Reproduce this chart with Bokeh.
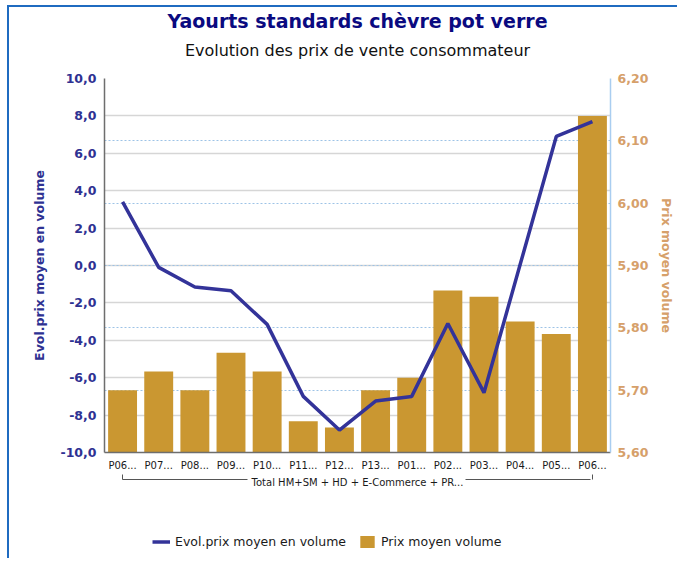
from bokeh.plotting import figure
from bokeh.layouts import column
from bokeh.models import (Range1d, LinearAxis, FixedTicker, Grid, Legend, LegendItem,
                          Title, ColumnDataSource)
from bokeh.embed import file_html
from bokeh.resources import INLINE

# ---------------- data ----------------
categories = ["P06...", "P07...", "P08...", "P09...", "P10...", "P11...", "P12...",
              "P13...", "P01...", "P02...", "P03...", "P04...", "P05...", "P06..."]
evol_prix = [3.4, -0.1, -1.15, -1.35, -3.15, -7.0, -8.8,
             -7.25, -7.0, -3.1, -6.8, 0.05, 6.9, 7.7]
prix_moyen = [5.70, 5.73, 5.70, 5.76, 5.73, 5.65, 5.64,
              5.70, 5.72, 5.86, 5.85, 5.81, 5.79, 6.14]
group_label = "Total HM+SM + HD + E-Commerce + PR..."
left_ticks = [-10, -8, -6, -4, -2, 0, 2, 4, 6, 8, 10]
right_ticks = [5.6, 5.7, 5.8, 5.9, 6.0, 6.1, 6.2]
left_tick_labels = ["-10,0", "-8,0", "-6,0", "-4,0", "-2,0", "0,0", "2,0", "4,0", "6,0", "8,0", "10,0"]
right_tick_labels = ["5,60", "5,70", "5,80", "5,90", "6,00", "6,10", "6,20"]

title_text = "Yaourts standards chèvre pot verre"
subtitle_text = "Evolution des prix de vente consommateur"
left_title = "Evol.prix moyen en volume"
right_title = "Prix moyen volume"
legend_labels = ["Evol.prix moyen en volume", "Prix moyen volume"]

FONT = "DejaVu Sans"
BLUE = "#2E3192"
TAN = "#D6A06A"
BAR = "#CA9731"
LINE = "#333399"

idx = list(range(len(categories)))
src = ColumnDataSource(dict(x=idx, evol=evol_prix, prix=prix_moyen))

p = figure(width=668, height=495,
           x_range=Range1d(-0.5, len(categories) - 0.5),
           y_range=Range1d(left_ticks[0], left_ticks[-1]),
           x_axis_type=None, y_axis_type=None,
           output_backend="svg", toolbar_location=None,
           min_border_left=95, min_border_right=60, min_border_top=71, min_border_bottom=50,
           outline_line_color=None)
p.extra_y_ranges = {"prix": Range1d(right_ticks[0], right_ticks[-1])}

# titles (first added = closest to the plot)
p.add_layout(Title(text=subtitle_text, align="center", text_font=FONT, text_font_size="16px",
                   text_font_style="normal", text_color="#111111", standoff=38), "above")
p.add_layout(Title(text=title_text, align="center", text_font=FONT, text_font_size="19px",
                   text_font_style="bold", text_color="#0A0A80", standoff=-24), "above")

# axes
yl = LinearAxis(ticker=FixedTicker(ticks=left_ticks),
                major_label_overrides=dict(zip(left_ticks, left_tick_labels)),
                axis_label=left_title, axis_label_standoff=10,
                axis_label_text_font=FONT, axis_label_text_font_size="12.5px",
                axis_label_text_font_style="bold", axis_label_text_color=BLUE,
                major_label_text_font=FONT, major_label_text_font_size="12.5px",
                major_label_text_font_style="bold", major_label_text_color=BLUE,
                major_label_standoff=8, major_tick_in=0, major_tick_out=0,
                major_tick_line_color=None, minor_tick_line_color=None,
                axis_line_color="#6E6E6E", axis_line_width=1.5)
p.add_layout(yl, "left")

yr = LinearAxis(y_range_name="prix", ticker=FixedTicker(ticks=right_ticks),
                major_label_overrides=dict(zip(right_ticks, right_tick_labels)),
                axis_label=right_title, axis_label_standoff=8,
                axis_label_text_font=FONT, axis_label_text_font_size="12.5px",
                axis_label_text_font_style="bold", axis_label_text_color=TAN,
                major_label_text_font=FONT, major_label_text_font_size="12.5px",
                major_label_text_font_style="bold", major_label_text_color=TAN,
                major_label_standoff=7, major_tick_in=0, major_tick_out=0,
                major_tick_line_color=None, minor_tick_line_color=None,
                axis_line_color="#A9CDF0", axis_line_width=1.5)
p.add_layout(yr, "right")

# category labels
xa = LinearAxis(ticker=FixedTicker(ticks=idx),
                major_label_overrides=dict(zip(idx, categories)),
                major_label_text_font=FONT, major_label_text_font_size="10px",
                major_label_text_color="#1A1A1A", major_label_standoff=7,
                major_tick_in=0, major_tick_out=0,
                major_tick_line_color=None, minor_tick_line_color=None,
                axis_line_color="#6E6E6E", axis_line_width=1.5,
                axis_label=" ", axis_label_text_font_size="3px", axis_label_standoff=0)
p.add_layout(xa, "below")

# group bracket with its label
xb = LinearAxis(ticker=FixedTicker(ticks=[idx[0], idx[-1]]), bounds=(idx[0], idx[-1]),
                major_label_overrides={idx[0]: " ", idx[-1]: " "},
                major_label_text_font_size="4px", major_label_standoff=0,
                major_tick_in=5, major_tick_out=0,
                major_tick_line_color="#555555", minor_tick_line_color=None,
                axis_line_color="#555555", axis_line_width=1, axis_line_dash="125 218",
                axis_label=group_label, axis_label_standoff=-11,
                axis_label_text_font=FONT, axis_label_text_font_size="10px",
                axis_label_text_font_style="normal", axis_label_text_color="#1A1A1A")
p.add_layout(xb, "below")

# grids
p.add_layout(Grid(dimension=1, ticker=yl.ticker, grid_line_color="#D6D6D6", grid_line_width=1.5))
p.add_layout(Grid(dimension=1, ticker=yr.ticker, y_range_name="prix",
                  grid_line_color="#9DC3E6", grid_line_dash="2 2", grid_line_width=1))

# glyphs
bars = p.vbar(x="x", top="prix", bottom=right_ticks[0], width=0.8, source=src,
              y_range_name="prix", fill_color=BAR, line_color=None)
line = p.line(x="x", y="evol", source=src, line_color=LINE, line_width=3.5)

# legend strip below the chart (its renderers sit outside its visible ranges)
pl = figure(width=668, height=56, x_axis_type=None, y_axis_type=None,
            x_range=Range1d(40, 41), y_range=Range1d(40, 41),
            output_backend="svg", toolbar_location=None, min_border=0,
            outline_line_color=None)
leg_line = pl.line(x="x", y="evol", source=src, line_color=LINE, line_width=3.5)
leg_bar = pl.vbar(x="x", top="prix", width=0.8, source=src, fill_color=BAR, line_color=None)
legend = Legend(items=[LegendItem(label=legend_labels[0], renderers=[leg_line]),
                       LegendItem(label=legend_labels[1], renderers=[leg_bar])],
                orientation="horizontal", location=(48, 9),
                border_line_color=None, background_fill_alpha=0,
                label_text_font=FONT, label_text_font_size="12.5px", label_text_color="#1A1A1A",
                glyph_width=18, glyph_height=15, label_standoff=5, spacing=12,
                padding=0, margin=0)
pl.add_layout(legend, "center")

layout = column(p, pl, spacing=0,
                styles={"transform": "translate(7px, 5px)",
                        "border-left": "2px solid #1F6BC0",
                        "border-top": "2px solid #1F6BC0"})

open("out.html", "w").write(file_html(layout, INLINE))
